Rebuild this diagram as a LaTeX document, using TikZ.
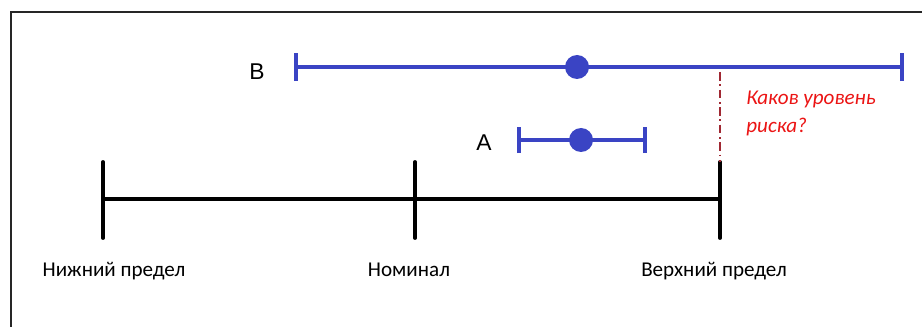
\documentclass[tikz,border=0pt]{standalone}
\usepackage{fontspec}
\setmainfont{Carlito}
\newfontfamily\arialfont{Liberation Sans}
\usetikzlibrary{positioning}
\definecolor{barblue}{RGB}{58,68,196}
\definecolor{riskred}{RGB}{235,20,20}
\definecolor{dashred}{RGB}{160,40,50}
\tikzset{
  frameline/.style={line width=1.1pt, black!85},
  scaleline/.style={line width=2.2pt, black, line cap=round},
  tolline/.style ={line width=2.4pt, barblue},
  toltick/.style ={line width=2.8pt, barblue},
  toldot/.style  ={circle, fill=barblue, minimum size=4.8mm, inner sep=0pt},
  riskline/.style={line width=1.1pt, dashred, dash pattern=on 5pt off 2pt on 1pt off 2pt},
  scalelabel/.style={font=\fontsize{12}{14}\selectfont, inner sep=0pt, anchor=base},
  barlabel/.style={font=\arialfont\fontsize{13}{15}\selectfont, inner sep=0pt},
  risklabel/.style={font=\itshape\fontsize{12}{15.5}\selectfont, text=riskred,
                    align=left, inner sep=0pt, anchor=north west},
}
\begin{document}
\begin{tikzpicture}[x=0.02cm, y=-0.02cm]
  \useasboundingbox (0,0) rectangle (922,327);
  % frame
  \coordinate (ftr) at (922,12);
  \coordinate (ftl) at (11,12);
  \coordinate (fbl) at (11,327);
  \draw[frameline] (ftr) -- (ftl) -- (fbl);

  % scale with limits
  \foreach \n/\x in {lo/103, nom/415, hi/720} {
    \coordinate (\n) at (\x,199);
    \coordinate (\n-top) at (\x,162);
    \coordinate (\n-bot) at (\x,238);
    \draw[scaleline] (\n-top) -- (\n-bot);
  }
  \draw[scaleline] (lo) -- (hi);
  \node[scalelabel] (lolab)  at (114,276) {Нижний предел};
  \node[scalelabel] (nomlab) at (409,276) {Номинал};
  \node[scalelabel] (hilab)  at (714,276) {Верхний предел};

  % tolerance bar B
  \coordinate (bl) at (296,67);
  \coordinate (br) at (902,67);
  \draw[tolline] (bl) -- (br);
  \draw[toltick] ([yshift=-8pt]bl) -- ([yshift=8pt]bl);
  \draw[toltick] ([yshift=-8pt]br) -- ([yshift=8pt]br);
  \node[toldot] (bdot) at (577,67) {};
  \node[barlabel] (blab) at (257,72) {B};

  % tolerance bar A
  \coordinate (al) at (519,140);
  \coordinate (ar) at (645,140);
  \draw[tolline] (al) -- (ar);
  \draw[toltick] ([yshift=-7.5pt]al) -- ([yshift=7.5pt]al);
  \draw[toltick] ([yshift=-7.5pt]ar) -- ([yshift=7.5pt]ar);
  \node[toldot] (adot) at (581,140) {};
  \node[barlabel] (alab) at (484,143) {A};

  % risk question
  \coordinate (rtop) at (720,72);
  \draw[riskline] (rtop) -- (hi-top);
  \node[risklabel] (risk) at (746,91) {Каков уровень\\риска?};
\end{tikzpicture}
\end{document}
